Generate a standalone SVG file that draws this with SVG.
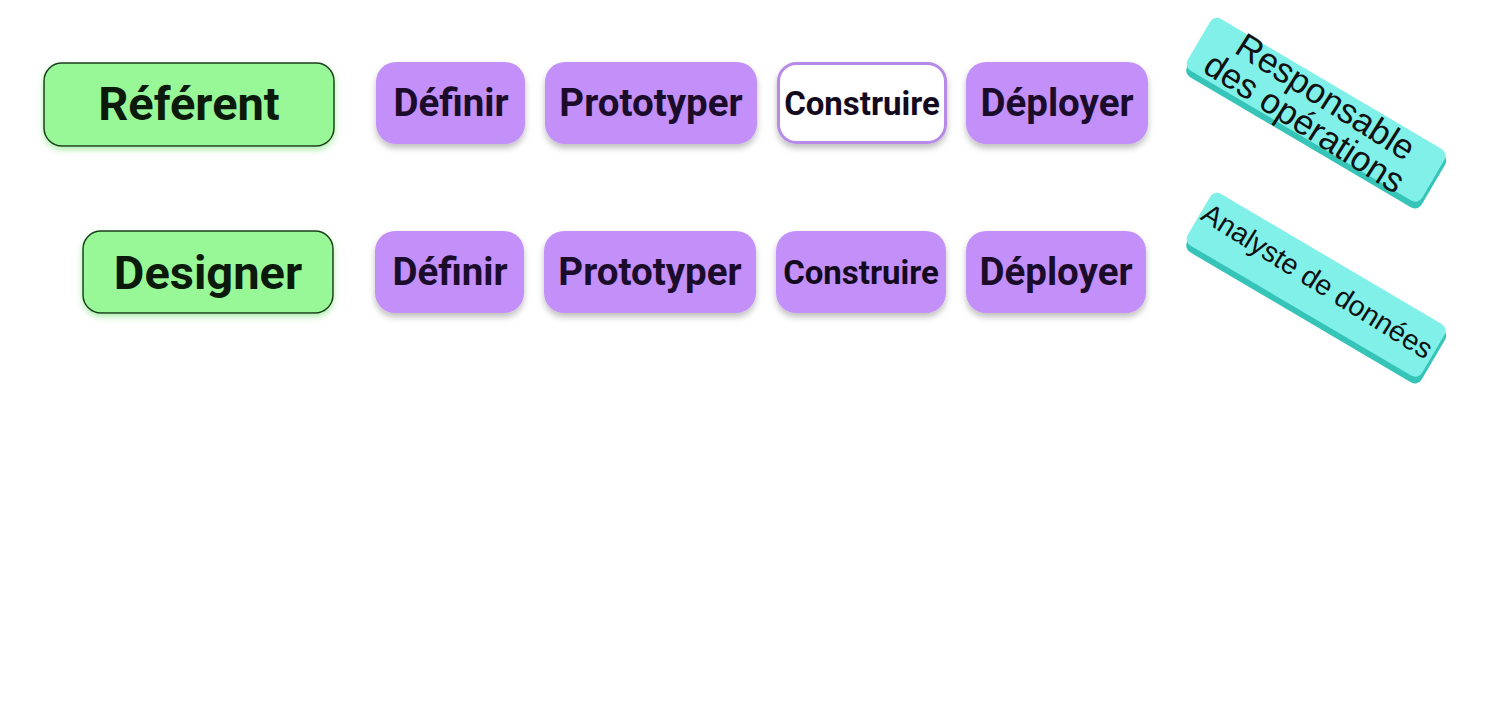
<svg xmlns="http://www.w3.org/2000/svg" width="1498" height="704" viewBox="0 0 1498 704">
<style>
.role{fill:#98f898;stroke:#1e3a1e;stroke-width:1.5}
.roleT{font-family:Roboto,"Liberation Sans",sans-serif;font-weight:700;font-size:47px;fill:#0c1a0c;text-anchor:middle}
.step{fill:#c290f8}
.stepW{fill:#ffffff;stroke:#b58ae8;stroke-width:3}
.stepT{font-family:Roboto,"Liberation Sans",sans-serif;font-weight:700;font-size:38.5px;fill:#1c0c2c;text-anchor:middle}
.stepS{font-family:Roboto,"Liberation Sans",sans-serif;font-weight:700;font-size:33px;fill:#140a1e;text-anchor:middle}
.tag{fill:#80f0e8}
.tagE{fill:#36c4b8}
.tagT{font-family:"Liberation Sans",Arial,sans-serif;fill:#111;text-anchor:middle}
</style>
<defs>
<filter id="sh" x="-20%" y="-20%" width="140%" height="160%">
<feDropShadow dx="0" dy="4" stdDeviation="3" flood-color="#000" flood-opacity="0.25"/>
</filter>
<filter id="gl" x="-20%" y="-20%" width="140%" height="160%">
<feDropShadow dx="0" dy="3" stdDeviation="3" flood-color="#5adc5a" flood-opacity="0.5"/>
</filter>
</defs>
<rect width="1498" height="704" fill="#ffffff"/>
<g id="connectors"></g>

<g id="referent"><rect class="role" x="44" y="63" width="290" height="83" rx="18" filter="url(#gl)"/><text class="roleT" x="189" y="120">Référent</text></g>
<g id="designer"><rect class="role" x="83" y="231" width="250" height="82" rx="18" filter="url(#gl)"/><text class="roleT" x="208" y="289">Designer</text></g>

<g id="r1-definir"><rect class="step" x="376" y="62" width="149" height="82" rx="20" filter="url(#sh)"/><text class="stepT" x="451" y="116">Définir</text></g>
<g id="r1-prototyper"><rect class="step" x="545" y="62" width="212" height="82" rx="20" filter="url(#sh)"/><text class="stepT" x="651" y="116">Prototyper</text></g>
<g id="r1-construire"><rect class="stepW" x="778.5" y="63.5" width="167" height="79" rx="18" filter="url(#sh)"/><text class="stepS" x="862" y="115">Construire</text></g>
<g id="r1-deployer"><rect class="step" x="966" y="62" width="182" height="82" rx="20" filter="url(#sh)"/><text class="stepT" x="1057" y="116">Déployer</text></g>

<g id="r2-definir"><rect class="step" x="375" y="231" width="149" height="82" rx="20" filter="url(#sh)"/><text class="stepT" x="450" y="285">Définir</text></g>
<g id="r2-prototyper"><rect class="step" x="544" y="231" width="212" height="82" rx="20" filter="url(#sh)"/><text class="stepT" x="650" y="285">Prototyper</text></g>
<g id="r2-construire"><rect class="step" x="776" y="231" width="170" height="82" rx="20" filter="url(#sh)"/><text class="stepS" x="861" y="284">Construire</text></g>
<g id="r2-deployer"><rect class="step" x="966" y="231" width="180" height="82" rx="20" filter="url(#sh)"/><text class="stepT" x="1056" y="285">Déployer</text></g>

<g id="responsable" transform="translate(1316,112) rotate(30.5)">
<rect class="tagE" x="-134" y="-28" width="272" height="62" rx="8"/>
<rect class="tag" x="-137" y="-32" width="272" height="60" rx="8"/>
<text class="tagT" transform="rotate(2)" x="0" y="-6" style="font-size:35px">Responsable</text>
<text class="tagT" transform="rotate(2)" x="-4" y="27" style="font-size:35px">des opérations</text>
</g>

<g id="analyste" transform="translate(1316,287) rotate(30.5)">
<rect class="tagE" x="-134" y="-28" width="272" height="62" rx="8"/>
<rect class="tag" x="-137" y="-32" width="272" height="60" rx="8"/>
<text class="tagT" transform="rotate(1.5)" x="-2" y="4" style="font-size:28.5px">Analyste de données</text>
</g>
</svg>
